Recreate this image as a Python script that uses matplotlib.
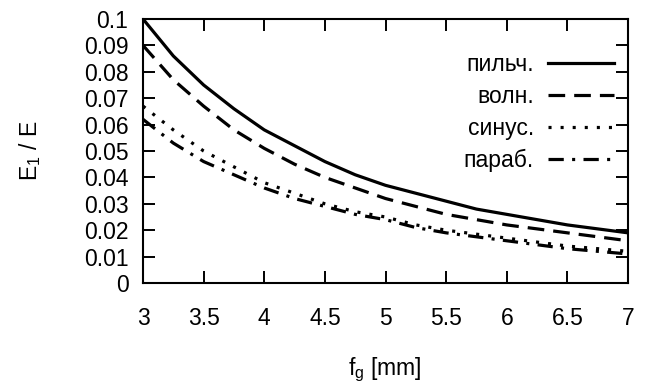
import matplotlib
matplotlib.use("Agg")
import matplotlib.pyplot as plt

plt.rcParams['font.family'] = ['Liberation Sans', 'DejaVu Sans']
plt.rcParams['mathtext.fontset'] = 'custom'
plt.rcParams['mathtext.rm'] = 'Liberation Sans'
plt.rcParams['mathtext.it'] = 'Liberation Sans'
plt.rcParams['lines.scale_dashes'] = False

fg = [3.0, 3.25, 3.5, 3.75, 4.0, 4.25, 4.5, 4.75, 5.0, 5.25, 5.5, 5.75, 6.0, 6.25, 6.5, 6.75, 7.0]
saw = [0.100, 0.086, 0.075, 0.066, 0.058, 0.052, 0.046, 0.041, 0.037, 0.034, 0.031, 0.028, 0.026, 0.024, 0.022, 0.0205, 0.019]
wave = [0.090, 0.077, 0.067, 0.058, 0.051, 0.045, 0.040, 0.036, 0.032, 0.029, 0.026, 0.024, 0.022, 0.0205, 0.019, 0.0175, 0.016]
sine = [0.067, 0.058, 0.050, 0.044, 0.038, 0.034, 0.030, 0.027, 0.025, 0.022, 0.020, 0.0185, 0.017, 0.0155, 0.014, 0.013, 0.012]
parab = [0.062, 0.053, 0.046, 0.041, 0.036, 0.032, 0.029, 0.026, 0.024, 0.021, 0.019, 0.0175, 0.016, 0.0145, 0.013, 0.012, 0.011]
labels = ['пильч.', 'волн.', 'синус.', 'параб.']
xticks = [3, 3.5, 4, 4.5, 5, 5.5, 6, 6.5, 7]
xticklabels = ['3', '3.5', '4', '4.5', '5', '5.5', '6', '6.5', '7']
yticks = [0, 0.01, 0.02, 0.03, 0.04, 0.05, 0.06, 0.07, 0.08, 0.09, 0.1]
yticklabels = ['0', '0.01', '0.02', '0.03', '0.04', '0.05', '0.06', '0.07', '0.08', '0.09', '0.1']

W, H = 651, 385
fig = plt.figure(figsize=(W / 100, H / 100), dpi=100)
ax = fig.add_axes([143 / W, (H - 283) / H, 485 / W, 264 / H])

lw = 2.3
ax.plot(fg, saw, color='black', lw=lw, linestyle='-', label=labels[0])
ax.plot(fg, wave, color='black', lw=lw, linestyle=(0, (12.0, 6.5)), label=labels[1])
ax.plot(fg, sine, color='black', lw=lw, linestyle=(0, (2.2, 6.5)), label=labels[2])
ax.plot(fg, parab, color='black', lw=lw, linestyle=(0, (11.0, 6.0, 2.2, 6.0)), label=labels[3])

ax.set_xlim(3, 7)
ax.set_ylim(0, 0.1)
ax.set_xticks(xticks)
ax.set_xticklabels(xticklabels)
ax.set_yticks(yticks)
ax.set_yticklabels(yticklabels)

fs = 16.5
ax.tick_params(axis='both', direction='in', length=8.6, width=1.4, top=True, right=True,
               labelsize=fs, colors='black')
ax.tick_params(axis='x', pad=17)
ax.tick_params(axis='y', pad=10.5)
for s in ax.spines.values():
    s.set_linewidth(1.5)

fig.text(30 / W, 1 - 151 / H, r'E$_{\mathrm{1}}$ / E', rotation=90, ha='center', va='center', fontsize=fs)
fig.text(385 / W, 1 - 370 / H, r'f$_{\mathrm{g}}$ [mm]', ha='center', va='center', fontsize=fs)

leg = ax.legend(loc='upper right', bbox_to_anchor=(1.0, 0.925), frameon=False, markerfirst=False,
                fontsize=fs, handlelength=2.9, handletextpad=0.6, labelspacing=0.4,
                borderaxespad=0.2)
for t in leg.get_texts():
    t.set_ha('right')

fig.savefig('out.png', dpi=100)
